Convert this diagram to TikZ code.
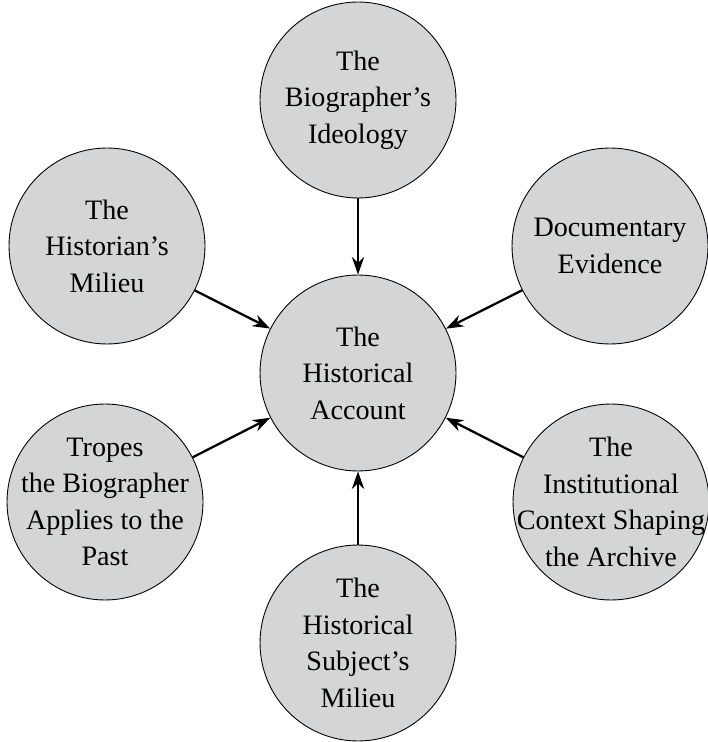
\documentclass[tikz,border=0pt]{standalone}
\usepackage{fontspec}
\setmainfont{Liberation Serif}
\usetikzlibrary{arrows.meta}
\definecolor{bubblegray}{RGB}{212,213,215}

\begin{document}
\begin{tikzpicture}[>={Stealth[length=10pt, width=7pt]}, x=0.02cm, y=-0.02cm,
        bubble/.style={circle, draw=black, line width=0.5pt, fill=bubblegray,
            minimum size=3.92cm, inner sep=-16pt, align=center,
            font=\fontsize{16}{20.8}\selectfont},
        feed/.style={->, line width=1.3pt}]
        \useasboundingbox (0, 0) rectangle (707, 742);
        \node[bubble] (account) at (358, 373) {The\\Historical\\Account};
        \node[bubble] (ideology) at (358, 100) {The\\Biographer's\\Ideology};
        \node[bubble] (historian) at (107, 246) {The\\Historian's\\Milieu};
        \node[bubble] (evidence) at (610, 246) {Documentary\\Evidence};
        \node[bubble] (tropes) at (105, 502)
            {Tropes\\the Biographer\\Applies to the\\Past};
        \node[bubble] (archive) at (611, 502)
            {The\\Institutional\\Context Shaping\\the Archive};
        \node[bubble] (subject) at (358, 643)
            {The\\Historical\\Subject's\\Milieu};
        \draw[feed] (ideology) -- (account);
        \draw[feed] (historian) -- (account);
        \draw[feed] (evidence) -- (account);
        \draw[feed] (tropes) -- (account);
        \draw[feed] (archive) -- (account);
        \draw[feed] (subject) -- (account);
    \end{tikzpicture}
\end{document}
